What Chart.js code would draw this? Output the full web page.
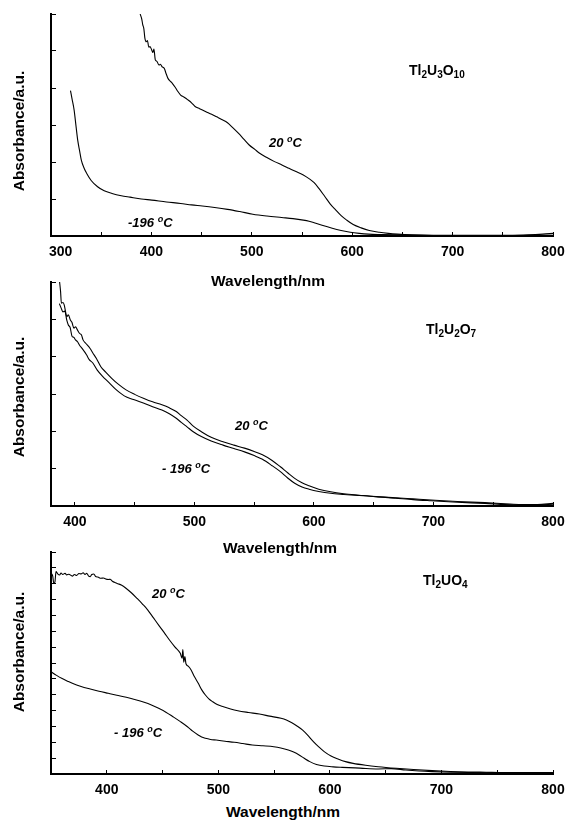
<!DOCTYPE html>
<html>
<head>
<meta charset="utf-8">
<script src="https://cdn.jsdelivr.net/npm/chart.js@4/dist/chart.umd.min.js"></script>
<style>
  html, body { margin:0; padding:0; background:#fff; }
  #wrap { position:relative; width:566px; height:821px; background:#fff; overflow:hidden; }
  canvas { position:absolute; left:0; }
  .t { position:absolute; white-space:nowrap; font-family:"Liberation Sans", Arial, sans-serif; font-weight:bold; color:#000; line-height:1; }
  .ytitle { font-size:15.5px; transform:translate(-50%,-50%) rotate(-90deg); }
  .xtitle { font-size:15.5px; transform:translate(-50%,-50%); }
  .formula { font-size:14px; }
  .formula sub { font-size:10px; vertical-align:baseline; position:relative; top:3px; }
  .temp { font-size:13px; font-style:italic; }
  .temp .deg { font-size:9px; position:relative; top:-5px; }
</style>
</head>
<body>
<div id="wrap">
  <canvas id="c1" width="566" height="262" style="top:0px"></canvas>
  <canvas id="c2" width="566" height="264" style="top:268px"></canvas>
  <canvas id="c3" width="566" height="262" style="top:538px"></canvas>

  <div class="t ytitle" style="left:19px;top:131px">Absorbance/a.u.</div>
  <div class="t ytitle" style="left:19px;top:397px">Absorbance/a.u.</div>
  <div class="t ytitle" style="left:19px;top:652px">Absorbance/a.u.</div>

  <div class="t xtitle" style="left:268px;top:281px">Wavelength/nm</div>
  <div class="t xtitle" style="left:280px;top:548px">Wavelength/nm</div>
  <div class="t xtitle" style="left:283px;top:812px">Wavelength/nm</div>

  <div class="t formula" style="left:409px;top:63px">Tl<sub>2</sub>U<sub>3</sub>O<sub>10</sub></div>
  <div class="t formula" style="left:426px;top:322px">Tl<sub>2</sub>U<sub>2</sub>O<sub>7</sub></div>
  <div class="t formula" style="left:423px;top:573px">Tl<sub>2</sub>UO<sub>4</sub></div>

  <div class="t temp" style="left:269px;top:136px">20 <span class="deg">o</span>C</div>
  <div class="t temp" style="left:128px;top:216px">-196 <span class="deg">o</span>C</div>
  <div class="t temp" style="left:235px;top:419px">20 <span class="deg">o</span>C</div>
  <div class="t temp" style="left:162px;top:462px">- 196 <span class="deg">o</span>C</div>
  <div class="t temp" style="left:152px;top:587px">20 <span class="deg">o</span>C</div>
  <div class="t temp" style="left:114px;top:726px">- 196 <span class="deg">o</span>C</div>
</div>
<script>
// ---------- Panel 1: Tl2U3O10 ----------
const p1Wl20 = [388.8,390.5,391.3,392.5,393.5,394.9,396,397.5,398.5,400.3,401.5,402.5,403.9,405.5,407.5,409,410.5,412.9,414.5,416.5,419,421,423.7,426,429.1,432,436.3,440,443.5,448,454.3,460,465,470,475.8,481,486.6,492,497.4,503,508.2,515,522.6,530,537,544,551.3,557,562.1,567,572.9,578,583.7,589,594.5,601,608.9,617,627,636,645,660,680.8,700,720,740,760,775,790,800];
const p1Abs20 = [6.0,5.85,5.72,5.60,5.35,5.25,5.28,5.10,5.12,5.03,4.96,5.05,4.76,4.72,4.62,4.64,4.58,4.53,4.40,4.26,4.18,4.12,4.02,3.92,3.81,3.76,3.68,3.60,3.50,3.44,3.36,3.29,3.22,3.15,3.06,2.93,2.78,2.62,2.46,2.34,2.23,2.12,2.01,1.92,1.83,1.74,1.65,1.55,1.44,1.28,1.06,0.87,0.70,0.55,0.43,0.31,0.22,0.15,0.10,0.07,0.05,0.03,0.02,0.02,0.02,0.02,0.02,0.03,0.05,0.07];
const p1WlCold = [319.4,321,323,325,326.6,328.5,330.2,333,335.6,340,346.4,353,360.8,370,378.7,390,400.3,415,429.1,440,450.7,463,475.8,488,501,515,529.8,541,551.3,557,562.1,570,580.1,589,598.1,607,616.1,630,645,680,717,760,800];
const p1AbsCold = [3.93,3.70,3.41,2.95,2.59,2.30,2.05,1.83,1.69,1.50,1.33,1.22,1.15,1.09,1.05,1.00,0.97,0.92,0.88,0.84,0.81,0.77,0.72,0.66,0.59,0.54,0.50,0.47,0.43,0.40,0.36,0.29,0.21,0.15,0.10,0.07,0.05,0.04,0.03,0.01,0.0,0.01,0.02];
const p1XTicks = [300,350,400,450,500,550,600,650,700,750,800];
const p1YTicks = [0,1,2,3,4,5,6];

// ---------- Panel 2: Tl2U2O7 ----------
const p2Wl20 = [387.2,388.0,388.7,390,391.1,392.2,393.2,394.5,396.2,397.5,399.2,400.5,402.2,404,405.5,406.8,409,412.7,415,418,421.7,426,430.8,436,442.8,450,457.8,465,472.8,479,484.8,489,493.8,499,505.8,514,523.9,533,541.9,550,556.9,565,571.9,578,583.9,590,595.9,604,614,625,638,652,668,683,698,720,743,760,773,787,800];
const p2Abs20 = [6.0,5.75,5.43,5.45,5.38,5.20,5.07,5.12,4.98,4.92,4.76,4.80,4.71,4.62,4.58,4.45,4.36,4.22,4.10,3.95,3.73,3.58,3.42,3.27,3.11,2.99,2.88,2.79,2.71,2.63,2.53,2.42,2.30,2.14,1.99,1.84,1.72,1.63,1.55,1.46,1.37,1.22,1.05,0.89,0.74,0.62,0.54,0.45,0.38,0.33,0.29,0.25,0.22,0.19,0.16,0.12,0.09,0.06,0.04,0.04,0.07];
const p2WlCold = [387,388.5,390,391.5,393.2,394.5,396,397.7,399,400.5,402.2,404,406,409.7,412,415,418.7,423,427.7,434,441.3,449,457.8,465,472.8,479,484.8,489,493.8,499,505.8,514,523.9,533,541.9,550,556.9,565,571.9,578,583.9,590,595.9,604,614,625,638,652,668,683,698,720,743,760,773,787,800];
const p2AbsCold = [5.42,5.30,5.20,5.22,4.98,4.85,4.78,4.54,4.52,4.45,4.40,4.30,4.22,4.05,3.92,3.83,3.64,3.48,3.33,3.13,2.95,2.85,2.75,2.66,2.57,2.47,2.35,2.24,2.12,1.99,1.86,1.74,1.63,1.54,1.45,1.35,1.25,1.08,0.92,0.75,0.61,0.51,0.45,0.39,0.34,0.31,0.28,0.25,0.21,0.17,0.14,0.10,0.07,0.04,0.03,0.03,0.05];
const p2XTicks = [380,400,450,500,550,600,650,700,750,800];
const p2YTicks = [0,1,2,3,4,5,6];

// ---------- Panel 3: Tl2UO4 ----------
const p3Wl20 = [350,351.5,352.5,353.5,354.5,356,357.7,359,360.5,362.6,364,366,369.1,371,373,375,377,378.8,380.5,382,383.5,385.2,386.5,388.4,390,392,394.8,397,399,401.3,403,405,407.8,410,413,417.5,422,427.2,432,436.8,441.5,446.5,451.5,456.2,461,465.9,467.5,468.2,469,470,471,473,475.6,478.5,482,485,488.4,491.5,494.9,499,504.6,511,517.5,527,536.8,546,556.2,561,565.9,570.5,575.6,580.5,585.2,590,594.9,601,607.8,614,620.8,632,643.3,659.5,675,691.7,708,724,740,756,778,800];
const p3Abs20 = [12.66,12.50,12.02,12.10,12.76,12.62,12.55,12.68,12.58,12.66,12.55,12.60,12.48,12.58,12.52,12.64,12.62,12.69,12.58,12.66,12.50,12.44,12.58,12.61,12.45,12.42,12.34,12.36,12.30,12.27,12.28,12.16,12.06,12.00,11.92,11.70,11.43,11.07,10.72,10.34,9.88,9.39,8.92,8.45,8.02,7.61,7.30,7.85,7.05,7.40,6.95,6.80,6.56,6.15,5.72,5.32,4.98,4.74,4.56,4.38,4.24,4.10,3.99,3.88,3.78,3.65,3.51,3.40,3.23,3.03,2.77,2.42,2.04,1.71,1.41,1.13,0.93,0.78,0.67,0.55,0.46,0.36,0.28,0.21,0.16,0.13,0.11,0.09,0.09,0.09];
const p3WlCold = [350,355,360,365,369.1,377,385.2,393,401.3,409,417.5,425,433.5,440,446.5,453,459.4,466,472.3,477,481.9,485,488.4,493,498.1,506,514.3,522,530.4,540,549.7,556,562.7,567.5,572.4,577,582,588,594.9,603,611.1,627,643.3,655,668,680,691.7,708,724,760,800];
const p3AbsCold = [6.45,6.22,6.02,5.85,5.72,5.52,5.36,5.22,5.09,4.97,4.84,4.70,4.52,4.35,4.14,3.90,3.61,3.30,2.98,2.70,2.46,2.33,2.25,2.18,2.14,2.07,2.00,1.92,1.83,1.78,1.72,1.64,1.51,1.38,1.20,0.99,0.78,0.60,0.50,0.45,0.42,0.37,0.32,0.34,0.25,0.19,0.15,0.11,0.09,0.07,0.06];
const p3XTicks = [350,400,450,500,550,600,650,700,750,800];
const p3YTicks = [0,1,2,3,4,5,6,7,8,9,10,11,12,13,14];

const FONT = '"Liberation Sans", Arial, sans-serif';
const pts = (xs, ys) => xs.map((x, i) => ({x: x, y: ys[i]}));

function makeChart(id, xMin, xMax, yMax, xTicks, yTicks, series, xAxisH) {
  const datasets = series.map(s => ({
    data: pts(s[0], s[1]),
    borderColor: '#000',
    borderWidth: 1.1,
    pointRadius: 0,
    fill: false,
    tension: 0.25,
    cubicInterpolationMode: 'monotone'
  }));
  return new Chart(document.getElementById(id), {
    type: 'line',
    data: { datasets },
    options: {
      responsive: false,
      animation: false,
      events: [],
      layout: { padding: { left: 0, right: 13, top: 14, bottom: 0 } },
      plugins: { legend: { display: false }, tooltip: { enabled: false } },
      scales: {
        x: {
          type: 'linear', min: xMin, max: xMax,
          afterBuildTicks: s => { s.ticks = xTicks.map(v => ({ value: v })); },
          afterFit: s => { s.height = xAxisH; s.paddingLeft = 0; s.paddingRight = 0; },
          ticks: {
            autoSkip: false, maxRotation: 0, minRotation: 0, padding: 12, color: '#000',
            font: { family: FONT, size: 14, weight: 'bold' },
            callback: v => (v % 100 === 0 ? (v === xMin ? '     ' + v : String(v)) : '')
          },
          grid: { drawOnChartArea: false, drawTicks: true, tickLength: -4, color: '#000', lineWidth: 1 },
          border: { display: true, color: '#000', width: 2 }
        },
        y: {
          type: 'linear', min: 0, max: yMax,
          afterBuildTicks: s => { s.ticks = yTicks.map(v => ({ value: v })); },
          afterFit: s => { s.width = 51; s.paddingTop = 0; s.paddingBottom = 0; },
          ticks: { display: false },
          grid: { drawOnChartArea: false, drawTicks: true, tickLength: -5, color: '#000', lineWidth: 1 },
          border: { display: true, color: '#000', width: 2 }
        }
      }
    }
  });
}

makeChart('c1', 300, 800, 6, p1XTicks, p1YTicks, [[p1Wl20, p1Abs20], [p1WlCold, p1AbsCold]], 26);
makeChart('c2', 380, 800, 6, p2XTicks, p2YTicks, [[p2Wl20, p2Abs20], [p2WlCold, p2AbsCold]], 26);
makeChart('c3', 350, 800, 14, p3XTicks, p3YTicks, [[p3Wl20, p3Abs20], [p3WlCold, p3AbsCold]], 26);
</script>
</body>
</html>
